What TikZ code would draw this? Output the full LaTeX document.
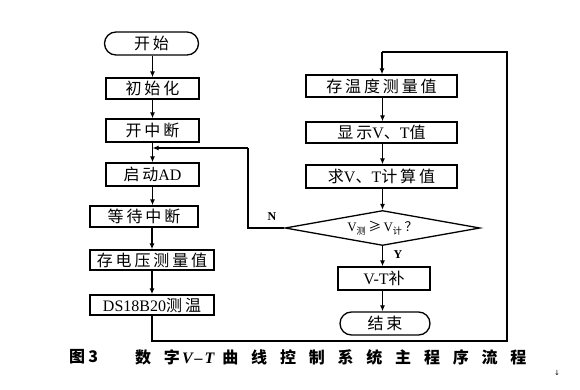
\documentclass[tikz,border=0pt]{standalone}
\usepackage{fontspec}
\setmainfont{Liberation Serif}
\newfontfamily\cjk{Noto Sans CJK SC}
\newfontfamily\symfont{DejaVu Sans}
\newcommand\latn[1]{{\rmfamily #1}}
\usetikzlibrary{shapes.geometric,shapes.misc,arrows.meta}
\begin{document}
\begin{tikzpicture}[x=1pt,y=-1pt,
  every node/.style={inner sep=0pt},
  txt/.style={font=\cjk\fontsize{16}{17}\selectfont\addfontfeature{LetterSpace=18}},
  box/.style={draw, line width=1.3pt, minimum height=22pt, txt},
  term/.style={draw, line width=1.3pt, rounded rectangle, minimum height=23pt, txt},
  dec/.style={draw, line width=1.3pt, diamond, aspect=5.6, minimum width=195pt, minimum height=35pt, font=\cjk\fontsize{13}{14}\selectfont},
  arr/.style={line width=1.2pt, -{Latex[length=6pt,width=5pt]}},
  ln/.style={line width=1.2pt},
  lbl/.style={font=\bfseries\fontsize{12}{12}\selectfont}]
\useasboundingbox (0,0) rectangle (580,390);
% left column
\node[term, minimum width=94pt] (start) at (151.5,43.5) {开始};
\node[box, minimum width=93pt, minimum height=21pt] (init) at (152.5,88.5) {初始化};
\node[box, minimum width=93pt, minimum height=23pt] (oint) at (152.5,130.5) {开中断};
\node[box, minimum width=93pt, minimum height=23pt] (ad) at (152.5,174.5) {启动\latn{AD}};
\node[box, minimum width=108pt, minimum height=21pt] (wait) at (144,216.5) {等待中断};
\node[box, minimum width=124pt, minimum height=20pt] (volt) at (152,260) {存电压测量值};
\node[box, minimum width=124pt, minimum height=20pt] (ds) at (152,305) {\latn{DS18B20}测温};
% right column
\node[box, minimum width=151pt, minimum height=22pt] (temp) at (381.5,86) {存温度测量值};
\node[box, minimum width=151pt, minimum height=21pt] (show) at (381.5,132.5) {显示\latn{V}、\latn{T}值};
\node[box, minimum width=151pt, minimum height=23pt] (calc) at (381.5,176.5) {求\latn{V}、\latn{T}计算值};
\node[dec] (cmp) at (382.5,228) {\latn{V}\textsubscript{测}\,≥\,\latn{V}\textsubscript{计}\,？};
\node[box, minimum width=92pt, minimum height=23pt] (comp) at (384,278.5) {\latn{V-T}补};
\node[term, minimum width=90pt] (end) at (385,323.5) {结束};
% coordinates
\coordinate (j1) at (152.5,148);
\coordinate (nl) at (248,228);
\coordinate (nu) at (248,148);
\coordinate (b1) at (152,341);
\coordinate (b2) at (507,341);
\coordinate (b3) at (507,52);
\coordinate (b4) at (382,52);
% arrows left
\draw[arr] (start.south -| init.north) -- (init.north);
\draw[arr] (init) -- (oint);
\draw[arr] (oint) -- (ad);
\draw[arr] (ad.south) -- (wait.north -| ad.south);
\draw[arr] (wait.south -| volt.north) -- (volt.north);
\draw[arr] (volt) -- (ds);
% right arrows
\draw[arr] (temp.south -| cmp.north) -- (show.north -| cmp.north);
\draw[arr] (show.south -| cmp.north) -- (calc.north -| cmp.north);
\draw[arr] (calc.south -| cmp.north) -- (cmp.north);
\draw[arr] (cmp.south) -- (comp.north -| cmp.south);
\draw[arr] (comp.south -| cmp.south) -- (end.north -| cmp.south);
% loops
\draw[ln] (cmp.west) -- (nl) -- (nu);
\draw[arr] (nu) -- (j1);
\draw[ln] (ds.south) -- (b1) -- (b2) -- (b3) -- (b4);
\draw[arr] (b4) -- (temp.north -| b4);
% labels
\node[lbl] at (272,217) {N};
\node[lbl] at (398,255) {Y};
% caption
\node[anchor=west, font=\cjk\bfseries\fontsize{16}{18}\selectfont\addfontfeature{LetterSpace=20}] (fig) at (69,357) {图3};
\node[anchor=west, font=\cjk\bfseries\fontsize{16}{18}\selectfont\addfontfeature{LetterSpace=80}] (cap) at (135,357) {数字\hspace{2pt}{\rmfamily\itshape\bfseries V\hspace{2pt}–\hspace{2pt}T}\hspace{8pt}曲线控制系统主程序流程};
\node[font=\symfont\fontsize{7}{8}\selectfont] (mark) at (557,373) {↓};
\end{tikzpicture}
\end{document}
